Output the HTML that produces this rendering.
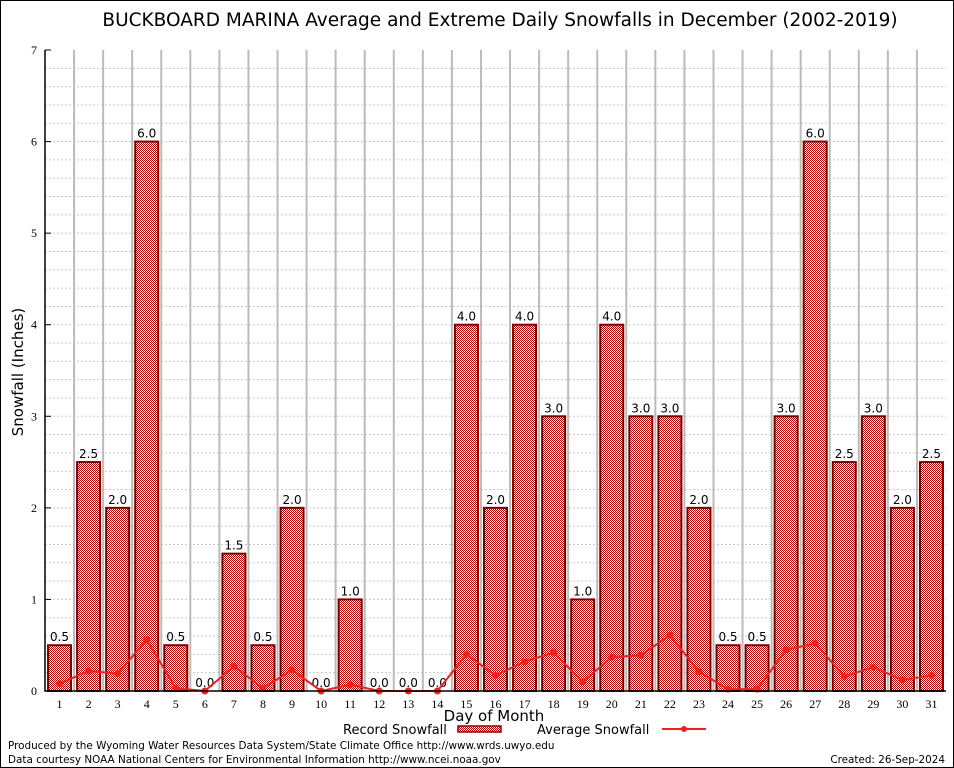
<!DOCTYPE html>
<html><head><meta charset="utf-8"><style>
body{margin:0;background:#fff;}
svg{display:block;font-family:"DejaVu Sans","Liberation Sans",sans-serif;}
</style></head><body>
<svg id="chart" width="954" height="768" viewBox="0 0 954 768">
<defs>
<pattern id="chk" width="2" height="2" patternUnits="userSpaceOnUse">
<rect width="2" height="2" fill="#fff"/>
<rect width="1" height="1" fill="#b00000"/>
<rect x="1" y="1" width="1" height="1" fill="#b00000"/>
</pattern>
</defs>
<rect x="0.5" y="0.5" width="953" height="767" fill="#fff" stroke="#000"/>
<text x="500" y="26" font-size="18.5" text-anchor="middle">BUCKBOARD MARINA Average and Extreme Daily Snowfalls in December (2002-2019)</text>
<g id="grid"></g>
<g id="bars"></g>
<g id="line"></g>
<g id="axes"></g>
<text x="23" y="372" font-size="15" text-anchor="middle" transform="rotate(-90 23 372)">Snowfall (Inches)</text>
<text x="494" y="721" font-size="15" text-anchor="middle">Day of Month</text>
<g>
<text x="343" y="734" font-size="13">Record Snowfall</text>
<rect x="458" y="726" width="43" height="6" fill="url(#chk)" stroke="#8b0000" stroke-width="1.5"/>
<text x="537" y="734" font-size="13">Average Snowfall</text>
<line x1="662" y1="729" x2="706" y2="729" stroke="#f02020" stroke-width="2"/>
<circle cx="684" cy="729" r="3" fill="#f02020"/>
</g>
<text x="8" y="749" font-size="10.4">Produced by the Wyoming Water Resources Data System/State Climate Office http://www.wrds.uwyo.edu</text>
<text x="8" y="763" font-size="10.4">Data courtesy NOAA National Centers for Environmental Information http://www.ncei.noaa.gov</text>
<text x="945" y="763" font-size="10.4" text-anchor="end">Created: 26-Sep-2024</text>
</svg>
<script>
const days = [1,2,3,4,5,6,7,8,9,10,11,12,13,14,15,16,17,18,19,20,21,22,23,24,25,26,27,28,29,30,31];
const recordSnow = [0.5,2.5,2.0,6.0,0.5,0.0,1.5,0.5,2.0,0.0,1.0,0.0,0.0,0.0,4.0,2.0,4.0,3.0,1.0,4.0,3.0,3.0,2.0,0.5,0.5,3.0,6.0,2.5,3.0,2.0,2.5];
const avgSnow = [0.08,0.22,0.19,0.56,0.03,0.0,0.27,0.03,0.23,0.0,0.07,0.0,0.0,0.0,0.40,0.17,0.32,0.42,0.10,0.37,0.39,0.61,0.21,0.02,0.02,0.45,0.52,0.16,0.26,0.12,0.17];
const yTicks = [0,1,2,3,4,5,6,7];

const NS='http://www.w3.org/2000/svg';
const L=45,R=946,T=50,B=691,yMax=7;
const slot=(R-L)/days.length;
const x=d=>L+(d-0.5)*slot;
const y=v=>B-v/yMax*(B-T);
function mk(tag,attrs,parent,text){const e=document.createElementNS(NS,tag);for(const k in attrs)e.setAttribute(k,attrs[k]);if(text!==undefined)e.textContent=text;parent.appendChild(e);return e;}
const grid=document.getElementById('grid'),bars=document.getElementById('bars'),line=document.getElementById('line'),axes=document.getElementById('axes');
for(let v=0.2;v<yMax-0.01;v+=0.2){
 const g=mk('line',{x1:L,x2:R,y1:y(v),y2:y(v),stroke:'#c8c8c8','stroke-dasharray':'2,2','stroke-width':1},grid);
 
 
}
for(let i=1;i<days.length;i++){
 const g=mk('line',{x1:L+i*slot,x2:L+i*slot,y1:T,y2:B,stroke:'#bbb','stroke-width':2},grid);
 
 
}
const bw=23;
days.forEach((d,i)=>{
 const v=recordSnow[i];
 if(v>0){
  const r=mk('rect',{x:x(d)-bw/2,y:y(v),width:bw,height:B-y(v),fill:'url(#chk)',stroke:'#7a0000','stroke-width':2},bars);
  
  
 }
 const t=mk('text',{x:x(d),y:y(v)-4,'font-size':12,'text-anchor':'middle'},bars,v.toFixed(1));
 
 
 const tl=mk('text',{x:x(d),y:B+17,'font-size':12,'text-anchor':'middle','font-family':'Liberation Serif,serif'},axes,String(d));
 
 
});
const pl=mk('polyline',{points:days.map((d,i)=>x(d)+','+y(avgSnow[i])).join(' '),fill:'none',stroke:'#f02020','stroke-width':2},line);


days.forEach((d,i)=>{
 const c=mk('circle',{cx:x(d),cy:y(avgSnow[i]),r:3.5,fill:'#f02020'},line);
 
 
});
yTicks.forEach(v=>{
 const t=mk('text',{x:L-8,y:y(v)+4,'font-size':12,'text-anchor':'end','font-family':'Liberation Serif,serif'},axes,String(v));
 
 
 mk('line',{x1:L,x2:L+6,y1:y(v),y2:y(v),stroke:'#000'},axes);
});
const ax=mk('path',{d:`M${L},${T}V${B}H${R}`,fill:'none',stroke:'#000','stroke-width':1.5},axes);


</script>
</body></html>
